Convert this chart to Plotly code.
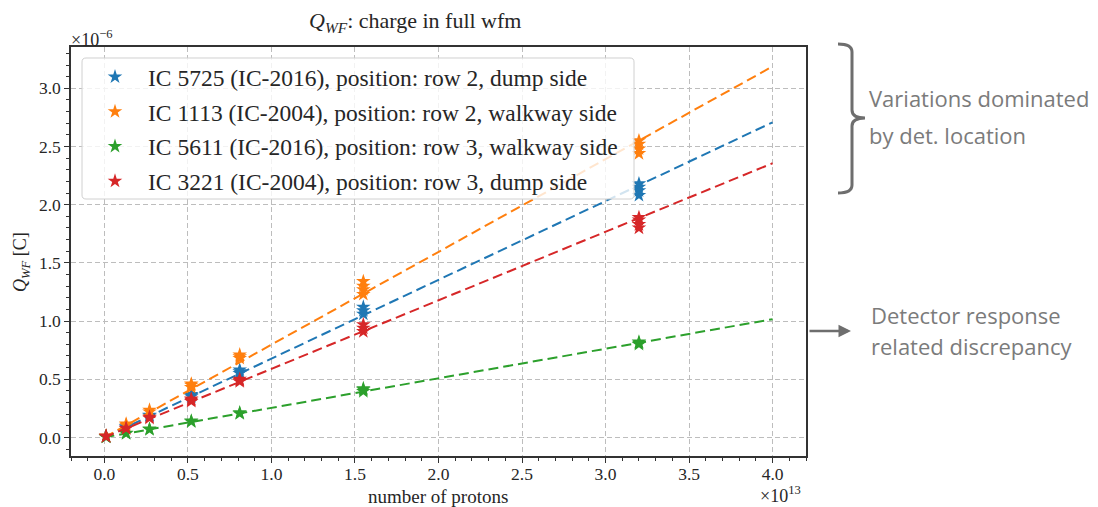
import plotly.graph_objects as go

# ---------------- data (x in units of 1e13 protons, y in units of 1e-6 C) -------------
labels = [
    "IC 5725 (IC-2016), position: row 2, dump side",
    "IC 1113 (IC-2004), position: row 2, walkway side",
    "IC 5611 (IC-2016), position: row 3, walkway side",
    "IC 3221 (IC-2004), position: row 3, dump side",
]
colors = ["#1f77b4", "#ff7f0e", "#2ca02c", "#d62728"]

x_5725 = [0.01, 0.01, 0.13, 0.13, 0.27, 0.27, 0.52, 0.52, 0.52, 0.81, 0.81, 0.81,
          1.55, 1.55, 1.55, 3.2, 3.2, 3.2, 3.2]
y_5725 = [0.008, 0.011, 0.088, 0.093, 0.185, 0.192, 0.35, 0.36, 0.37, 0.55, 0.565, 0.58,
          1.06, 1.09, 1.12, 2.08, 2.12, 2.15, 2.18]

x_1113 = [0.01, 0.01, 0.13, 0.13, 0.27, 0.27, 0.52, 0.52, 0.52, 0.81, 0.81, 0.81,
          1.55, 1.55, 1.55, 1.55, 3.2, 3.2, 3.2, 3.2]
y_1113 = [0.009, 0.012, 0.105, 0.115, 0.22, 0.235, 0.43, 0.45, 0.46, 0.68, 0.695, 0.71,
          1.23, 1.27, 1.30, 1.34, 2.44, 2.48, 2.52, 2.55]

x_5611 = [0.01, 0.01, 0.13, 0.13, 0.27, 0.27, 0.52, 0.52, 0.81, 0.81,
          1.55, 1.55, 1.55, 3.2, 3.2, 3.2]
y_5611 = [0.003, 0.005, 0.033, 0.037, 0.068, 0.073, 0.135, 0.142, 0.205, 0.212,
          0.395, 0.41, 0.42, 0.80, 0.81, 0.82]

x_3221 = [0.01, 0.01, 0.13, 0.13, 0.27, 0.27, 0.52, 0.52, 0.52, 0.81, 0.81, 0.81,
          1.55, 1.55, 1.55, 3.2, 3.2, 3.2, 3.2]
y_3221 = [0.007, 0.01, 0.075, 0.08, 0.165, 0.175, 0.31, 0.32, 0.33, 0.48, 0.49, 0.50,
          0.91, 0.94, 0.97, 1.80, 1.83, 1.87, 1.89]

# linear fit slopes (1e-6 C per 1e13 protons) and fit range
fit_slopes = [0.677, 0.797, 0.254, 0.589]
fit_x = [0.0, 4.0]

xs = [x_5725, x_1113, x_5611, x_3221]
ys = [y_5725, y_1113, y_5611, y_3221]

x_ticks = [0.0, 0.5, 1.0, 1.5, 2.0, 2.5, 3.0, 3.5, 4.0]
y_ticks = [0.0, 0.5, 1.0, 1.5, 2.0, 2.5, 3.0]

# ---------------- layout geometry ----------------
# page pixels of the target; the page body adds an 8px offset to the figure
OFF = 8
W, H = 1090, 499
L, R, T, B = 71, 806, 47, 456   # plot area in page pixels


def px(x):
    return (x - L) / (R - L)


def py(y):
    return (B - y) / (B - T)


SERIF = "Liberation Serif"
SANS = "Open Sans"
AXC = "#333333"
TXT = "#262626"
NOTE = "#7b7b7b"

fig = go.Figure()
for i in range(4):
    fig.add_trace(go.Scatter(
        x=xs[i], y=ys[i], mode="markers", name=labels[i],
        legendgroup=str(i),
        marker=dict(symbol="star", size=11, color=colors[i], line=dict(width=0)),
    ))
    fig.add_trace(go.Scatter(
        x=fit_x, y=[fit_slopes[i] * v for v in fit_x], mode="lines",
        showlegend=False, legendgroup=str(i), hoverinfo="skip",
        line=dict(color=colors[i], width=2, dash="10px,5px"),
    ))

axis_common = dict(
    showgrid=True, gridcolor="#bdbdbd", gridwidth=0.8, griddash="5px,3px",
    showline=True, mirror=True, linecolor=AXC, linewidth=1.5,
    ticks="outside", ticklen=5, tickwidth=1.2, tickcolor=AXC,
    zeroline=False, tickformat=".1f",
    tickfont=dict(family=SERIF, size=17.5, color=TXT),
)

fig.update_xaxes(
    range=[-0.2, 4.2], tickvals=x_ticks, **axis_common, ticklabelstandoff=-4,
    minor=dict(ticks="outside", ticklen=3, tickwidth=1, tickcolor=AXC, dtick=0.1, tick0=0,
               showgrid=False),
)
fig.update_yaxes(
    range=[-0.16, 3.355], tickvals=y_ticks, **axis_common, ticklabelstandoff=0,
    minor=dict(ticks="outside", ticklen=3, tickwidth=1, tickcolor=AXC, dtick=0.1, tick0=0,
               showgrid=False),
)


def note(text, x, y, size, family, color, xanchor="left", **kw):
    return dict(text=text, x=px(x), y=py(y), xref="paper", yref="paper",
                showarrow=False, xanchor=xanchor, yanchor="middle",
                font=dict(family=family, size=size, color=color), **kw)


annotations = [
    note("<i>Q</i><sub><i>WF</i></sub>: charge in full wfm", 415, 22, 22, SERIF, TXT,
         xanchor="center"),
    note("×10<sup>−6</sup>", 69, 38, 18, SERIF, TXT),
    note("×10<sup>13</sup>", 803, 494, 18, SERIF, TXT, xanchor="right"),
    note("number of protons", 438, 496, 19, SERIF, TXT, xanchor="center"),
    note("<i>Q</i><sub><i>WF</i></sub> [C]", 22, 262, 18, SERIF, TXT, xanchor="center",
         textangle=-90),
    note("Variations dominated", 867, 98, 22, SANS, NOTE),
    note("by det. location", 867, 135, 22, SANS, NOTE),
    note("Detector response", 869, 315, 22, SANS, NOTE),
    note("related discrepancy", 869, 346, 22, SANS, NOTE),
    dict(text="", x=px(851), y=py(331), xref="paper", yref="paper",
         ax=-43, ay=0, axref="pixel", ayref="pixel", showarrow=True,
         arrowhead=2, arrowsize=1, arrowwidth=2.5, arrowcolor="#6e6e6e"),
]


def P(x, y):
    return f"{px(x):.5f},{py(y):.5f}"


bracket = ("M " + P(838, 44) + " Q " + P(852, 44) + " " + P(852, 52) +
           " L " + P(852, 110) + " Q " + P(852, 118) + " " + P(865, 118) +
           " Q " + P(852, 118) + " " + P(852, 126) +
           " L " + P(852, 185) + " Q " + P(852, 193) + " " + P(838, 193))

# legend frame (semi-transparent, drawn over the fit lines)
lx0, ly0, lx1, ly1, rr = 82, 58, 634, 199, 4
frame = ("M " + P(lx0 + rr, ly0) + " L " + P(lx1 - rr, ly0) + " Q " + P(lx1, ly0) + " " + P(lx1, ly0 + rr) +
         " L " + P(lx1, ly1 - rr) + " Q " + P(lx1, ly1) + " " + P(lx1 - rr, ly1) +
         " L " + P(lx0 + rr, ly1) + " Q " + P(lx0, ly1) + " " + P(lx0, ly1 - rr) +
         " L " + P(lx0, ly0 + rr) + " Q " + P(lx0, ly0) + " " + P(lx0 + rr, ly0) + " Z")

shapes = [
    dict(type="path", path=bracket, xref="paper", yref="paper",
         line=dict(color="#6e6e6e", width=3)),
    dict(type="path", path=frame, xref="paper", yref="paper", layer="above",
         fillcolor="rgba(255,255,255,0.8)", line=dict(color="#d0d0d0", width=1)),
]

fig.update_layout(
    width=W, height=H,
    margin=dict(l=L - OFF, r=W - (R - OFF), t=T - OFF, b=H - (B - OFF), autoexpand=False),
    paper_bgcolor="white", plot_bgcolor="white",
    showlegend=True,
    legend=dict(
        x=px(82), y=py(55), xanchor="left", yanchor="top",
        bgcolor="rgba(0,0,0,0)", borderwidth=0,
        font=dict(family=SERIF, size=23.5, color=TXT),
        tracegroupgap=1.2, itemwidth=56,
    ),
    annotations=annotations, shapes=shapes,
)

fig.write_html("out.html")
